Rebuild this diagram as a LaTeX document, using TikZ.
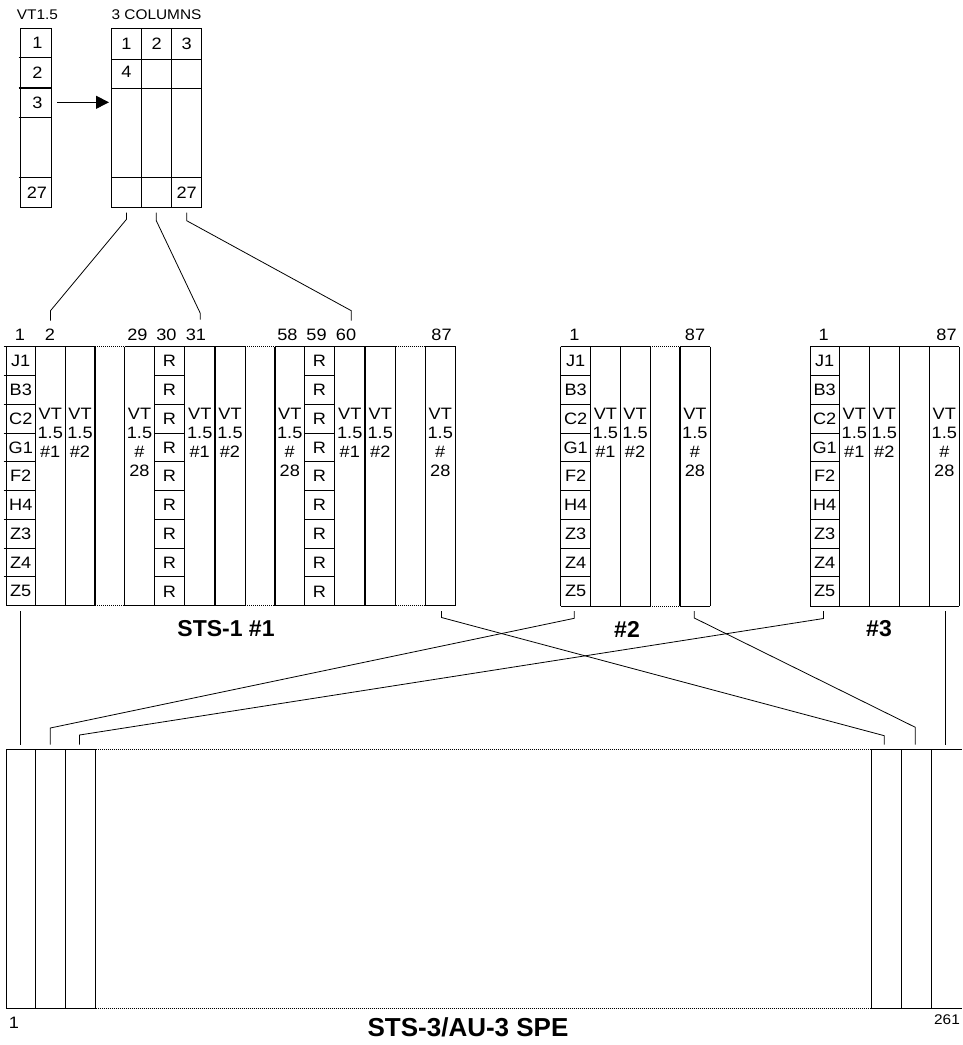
\documentclass[tikz,border=0pt]{standalone}
\usepackage{fontspec}
\setmainfont{Liberation Sans}
\newfontfamily\cellfont[FakeStretch=1.1]{Liberation Sans}
\usetikzlibrary{arrows.meta}
% box column: #1 left, #2 right, #3 name, #4 labels, #5 left start of separators
\newcommand\boxcol[5]{%
  \foreach \t [count=\i] in {#4} {
    \draw[ln] (#5, {346.7+28.78*(\i-1)}) -- (#2, {346.7+28.78*(\i-1)});
    \node[txt] (#3-\i) at ({(#1+#2)/2}, {346.7+28.78*(\i-0.5)}) {\t};
  }}
% VT column text: #1 left, #2 right, #3 name, #4 lines
\newcommand\vtcol[4]{%
  \foreach \t [count=\i] in {#4}
    \node[txt, anchor=base] (#3-\i) at ({(#1+#2)/2}, {419.5+19*(\i-1)}) {\t};}
\begin{document}
\begin{tikzpicture}[x=1pt,y=-1pt,
  ln/.style={line width=0.9pt},
  thk/.style={line width=1.6pt},
  conn/.style={line width=0.8pt},
  dots/.style={line width=0.8pt, dash pattern=on 1.2pt off 0.8pt},
  txt/.style={font=\cellfont\fontsize{16.5}{16.5}\selectfont, inner sep=0pt},
  small/.style={font=\cellfont\fontsize{14}{14}\selectfont, inner sep=0pt},
  ttl/.style={font=\bfseries\fontsize{23}{23}\selectfont, inner sep=0pt},
  bigttl/.style={font=\bfseries\fontsize{26}{26}\selectfont, inner sep=0pt},
]
\useasboundingbox (0,0) rectangle (962,1045);

% ---------- top: VT1.5 and 3 columns ----------
\node[small] (lblvt) at (37.5,15) {VT1.5};
\node[small] (lbl3c) at (156.5,15) {3 COLUMNS};
\draw[ln] (20.7,28.3) rectangle (51.7,207.7);
\foreach \y in {57.7,117.7,177.7} \draw[ln] (18.5,\y) -- (51.7,\y);
\draw[thk] (18.5,87.7) -- (51.7,87.7);
\node[txt] (v1) at (37.5,43) {1};
\node[txt] (v2) at (37.5,72.7) {2};
\node[txt] (v3) at (37.5,102.7) {3};
\node[txt] (v27) at (37,192.7) {27};

\draw[ln] (111,28.3) rectangle (201.7,207.7);
\draw[ln] (141.7,28.3) -- (141.7,207.7) (171.7,28.3) -- (171.7,207.7);
\foreach \y in {59,88.3,177.7} \draw[ln] (111,\y) -- (201.7,\y);
\node[txt] (c1) at (126.3,43.5) {1};
\node[txt] (c2) at (156.7,43.5) {2};
\node[txt] (c3) at (186.7,43.5) {3};
\node[txt] (c4) at (126.3,72) {4};
\node[txt] (c27) at (186.7,192.7) {27};

\coordinate (arrS) at (57.3,102.3);
\coordinate (arrE) at (109,102.3);
\draw[ln, -{Triangle[length=13pt,width=13pt]}] (arrS) -- (arrE);

% connectors from 3 columns to STS-1 #1
\coordinate (ta0) at (126.5,212.7); \coordinate (ta1) at (126.5,219.3);
\coordinate (ta2) at (50.5,310.7);  \coordinate (ta3) at (50.5,320.7);
\coordinate (tb0) at (156.3,212.7); \coordinate (tb1) at (156.3,220.7);
\coordinate (tb2) at (200.3,313.3); \coordinate (tb3) at (200.3,319.5);
\coordinate (tc0) at (186.7,212.7); \coordinate (tc1) at (186.7,220.7);
\coordinate (tc2) at (351.3,310.7); \coordinate (tc3) at (351.3,320.7);
\draw[conn] (ta0) -- (ta1) -- (ta2) -- (ta3);
\draw[conn] (tb0) -- (tb1) -- (tb2) -- (tb3);
\draw[conn] (tc0) -- (tc1) -- (tc2) -- (tc3);

% ---------- STS-1 #1 ----------
\draw[ln] (6,346.7) -- (95,346.7) (124.5,346.7) -- (245,346.7) (275,346.7) -- (395.5,346.7) (425,346.7) -- (455.5,346.7);
\draw[ln] (6,605.7) -- (95,605.7) (124.5,605.7) -- (245,605.7) (275,605.7) -- (395.5,605.7) (425,605.7) -- (455.5,605.7);
\draw[dots] (95,346.7) -- (124.5,346.7) (245,346.7) -- (275,346.7) (395.5,346.7) -- (425,346.7);
\draw[dots] (95,605.7) -- (124.5,605.7) (245,605.7) -- (275,605.7) (395.5,605.7) -- (425,605.7);
\foreach \x in {6,35.5,65,124.5,154.5,184.5,245,304.5,334.5,395.5,425,455.5}
  \draw[ln] (\x,346.7) -- (\x,605.7);
\foreach \x in {95,215,275,365}
  \draw[thk] (\x,346.7) -- (\x,605.7);
\boxcol{6}{35.5}{a1}{J1,B3,C2,G1,F2,H4,Z3,Z4,Z5}{3.5}
\vtcol{35.5}{65}{a2}{VT,1.5,\#1}
\vtcol{65}{95}{a3}{VT,1.5,\#2}
\vtcol{124.5}{154.5}{a29}{VT,1.5,\#,28}
\boxcol{154.5}{184.5}{a30}{R,R,R,R,R,R,R,R,R}{154.5}
\vtcol{184.5}{215}{a31}{VT,1.5,\#1}
\vtcol{215}{245}{a32}{VT,1.5,\#2}
\vtcol{275}{304.5}{a58}{VT,1.5,\#,28}
\boxcol{304.5}{334.5}{a59}{R,R,R,R,R,R,R,R,R}{304.5}
\vtcol{334.5}{365}{a60}{VT,1.5,\#1}
\vtcol{365}{395.5}{a61}{VT,1.5,\#2}
\vtcol{425}{455.5}{a87}{VT,1.5,\#,28}
\node[txt] (n1) at (20,335) {1};
\node[txt] (n2) at (50,335) {2};
\node[txt] (n29) at (137.5,335) {29};
\node[txt] (n30) at (166.5,335) {30};
\node[txt] (n31) at (196,335) {31};
\node[txt] (n58) at (287.5,335) {58};
\node[txt] (n59) at (316.5,335) {59};
\node[txt] (n60) at (346,335) {60};
\node[txt] (n87) at (441.5,335) {87};
\node[ttl] (t1) at (226,629) {STS-1 \#1};

% ---------- STS-1 #2 ----------
\draw[ln] (560.7,346.7) -- (650,346.7) (679.7,346.7) -- (710,346.7);
\draw[ln] (560.7,606) -- (650,606) (679.7,606) -- (710,606);
\draw[dots] (650,346.7) -- (679.7,346.7) (650,606) -- (679.7,606);
\foreach \x in {560.7,590.7,620,650,710}
  \draw[ln] (\x,346.7) -- (\x,606);
\draw[thk] (679.7,346.7) -- (679.7,606);
\boxcol{560.7}{590.7}{b1}{J1,B3,C2,G1,F2,H4,Z3,Z4,Z5}{560.7}
\vtcol{590.7}{620}{b2}{VT,1.5,\#1}
\vtcol{620}{650}{b3}{VT,1.5,\#2}
\vtcol{679.7}{710}{b87}{VT,1.5,\#,28}
\node[txt] (m1) at (574.5,335) {1};
\node[txt] (m87) at (695,335) {87};
\node[ttl] (t2) at (627,629) {\#2};

% ---------- STS-1 #3 ----------
\draw[ln] (810,346.7) -- (899.3,346.7) (929.3,346.7) -- (959.3,346.7);
\draw[ln] (810,606) -- (899.3,606) (929.3,606) -- (959.3,606);
\draw[dots] (899.3,346.7) -- (929.3,346.7) (899.3,606) -- (929.3,606);
\foreach \x in {810,839.3,869.3,899.3,929.3,959.3}
  \draw[ln] (\x,346.7) -- (\x,606);
\boxcol{810}{839.3}{c1}{J1,B3,C2,G1,F2,H4,Z3,Z4,Z5}{810}
\vtcol{839.3}{869.3}{c2}{VT,1.5,\#1}
\vtcol{869.3}{899.3}{c3}{VT,1.5,\#2}
\vtcol{929.3}{959.3}{c87}{VT,1.5,\#,28}
\node[txt] (k1) at (823.7,335) {1};
\node[txt] (k87) at (946.5,335) {87};
\node[ttl] (t3) at (879,629) {\#3};

% ---------- connectors to STS-3 ----------
\coordinate (p1a) at (20.7,611); \coordinate (p1b) at (20.7,744.5);
\draw[conn] (p1a) -- (p1b);
\coordinate (p2a) at (574.3,611); \coordinate (p2b) at (574.3,618.3);
\coordinate (p2c) at (50.3,728); \coordinate (p2d) at (50.3,744.5);
\draw[conn] (p2a) -- (p2b) -- (p2c) -- (p2d);
\coordinate (p3a) at (823.5,611); \coordinate (p3b) at (823.5,618.5);
\coordinate (p3c) at (79.5,735); \coordinate (p3d) at (79.5,744.5);
\draw[conn] (p3a) -- (p3b) -- (p3c) -- (p3d);
\coordinate (q1a) at (441.5,611); \coordinate (q1b) at (441.5,617.5);
\coordinate (q1c) at (884.3,735.7); \coordinate (q1d) at (884.3,744.5);
\draw[conn] (q1a) -- (q1b) -- (q1c) -- (q1d);
\coordinate (q2a) at (694.3,611); \coordinate (q2b) at (694.3,618);
\coordinate (q2c) at (915.3,727.3); \coordinate (q2d) at (915.3,744.5);
\draw[conn] (q2a) -- (q2b) -- (q2c) -- (q2d);
\coordinate (q3a) at (945.5,611); \coordinate (q3b) at (945.5,744.5);
\draw[conn] (q3a) -- (q3b);

% ---------- STS-3 / AU-3 SPE bar ----------
\draw[ln] (6,749.7) -- (95.7,749.7) (871,749.7) -- (962,749.7);
\draw[ln] (6,1008.7) -- (95.7,1008.7) (871,1008.7) -- (962,1008.7);
\draw[dots] (95.7,749.7) -- (871,749.7) (95.7,1008.7) -- (871,1008.7);
\foreach \x in {6,35.7,65.7,95.7,871,901.7,931.7}
  \draw[ln] (\x,749.7) -- (\x,1008.7);
\node[txt] (s1) at (14,1023) {1};
\node[small] (s261) at (947,1020) {261};
\node[bigttl] (t4) at (468,1027) {STS-3/AU-3 SPE};
\end{tikzpicture}
\end{document}
